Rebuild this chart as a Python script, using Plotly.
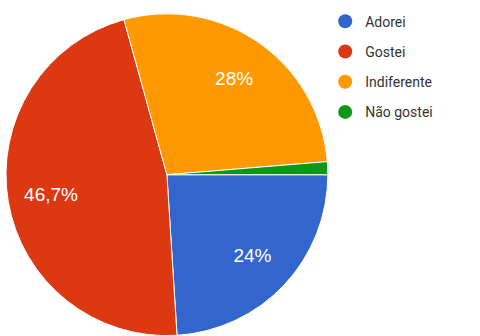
import plotly.graph_objects as go

categories = ["Adorei", "Gostei", "Indiferente", "Não gostei"]
values = [24, 46.7, 28, 1.3]
slice_text = ["24%", "46,7%", "28%", ""]
colors = ["#3366CC", "#DC3912", "#FF9900", "#109618"]

dom = dict(x=[0.0125, 0.683], y=[0.0, 0.96])

fig = go.Figure()
# full pie (colours + white separators)
fig.add_trace(go.Pie(
    labels=categories, values=values, textinfo="none",
    marker=dict(colors=colors, line=dict(color="white", width=1)),
    sort=False, direction="clockwise", rotation=90,
    showlegend=False, hoverinfo="label+percent", domain=dom,
))
# transparent outer ring on top carrying the labels, so they sit further out like the original
fig.add_trace(go.Pie(
    labels=categories, values=values, text=slice_text, hole=0.46,
    textinfo="text", textposition="inside", insidetextorientation="horizontal",
    textfont=dict(color="white", size=19, family="Liberation Sans, Arial"),
    marker=dict(colors=["rgba(0,0,0,0)"] * len(categories), line=dict(width=0)),
    sort=False, direction="clockwise", rotation=90,
    showlegend=False, hoverinfo="label+percent", domain=dom,
))

for i, (c, col) in enumerate(zip(categories, colors)):
    fig.add_trace(go.Scatter(
        x=[None], y=[None], mode="markers", name=c,
        marker=dict(color=col, size=14, symbol="circle"),
        legendgroup=f"g{i}", showlegend=True,
    ))

fig.update_layout(
    width=480, height=336,
    margin=dict(l=0, r=0, t=0, b=0),
    paper_bgcolor="white", plot_bgcolor="white",
    xaxis=dict(visible=False), yaxis=dict(visible=False),
    legend=dict(
        x=0.6775, y=0.983, xanchor="left", yanchor="top",
        font=dict(family="Roboto, Arial", size=14, color="#333333"),
        tracegroupgap=9, itemwidth=30, bgcolor="rgba(0,0,0,0)",
    ),
)

fig.write_html("out.html")
